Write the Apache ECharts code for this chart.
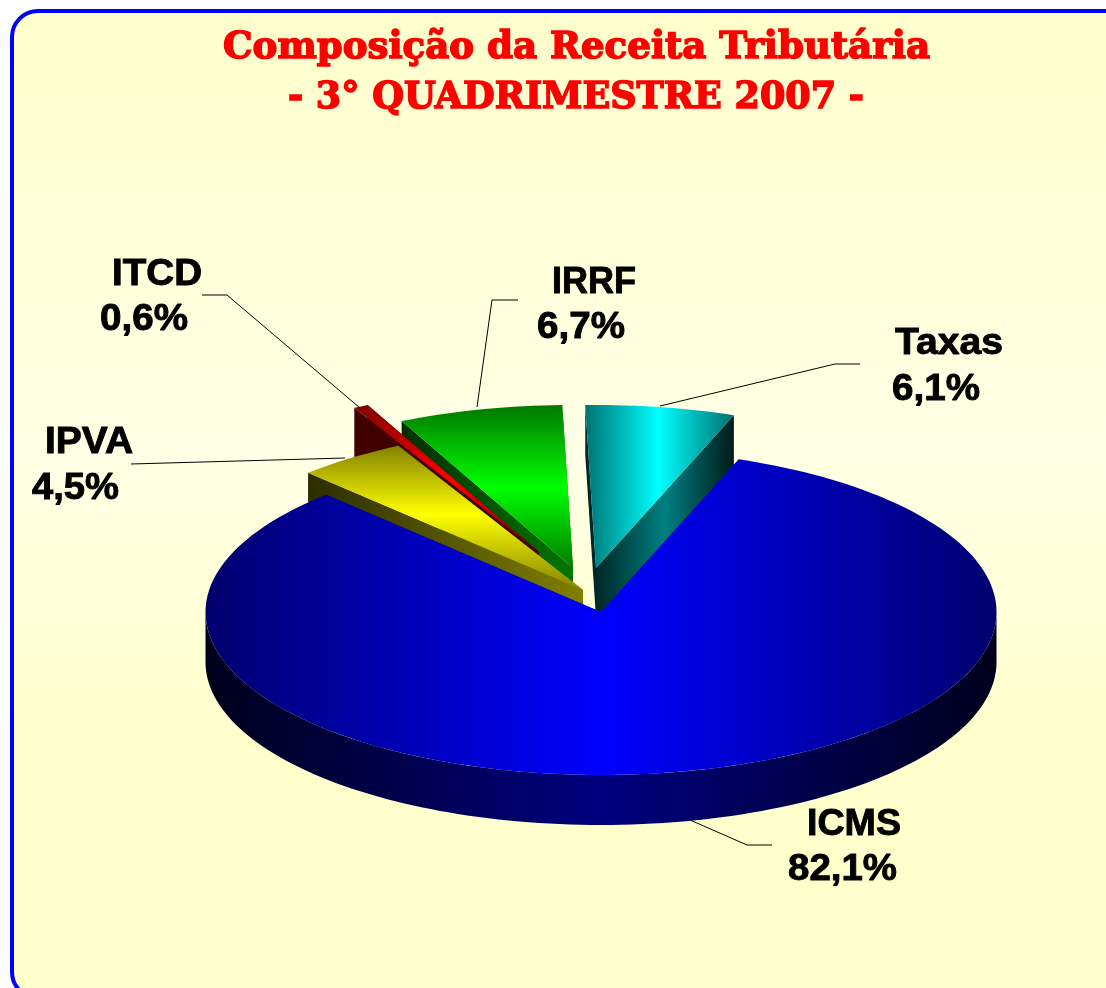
<!DOCTYPE html>
<html>
<head>
<meta charset="utf-8">
<style>html,body{margin:0;padding:0;background:#fff}#c{width:1106px;height:988px}</style>
<script src="https://cdn.jsdelivr.net/npm/echarts@6/dist/echarts.min.js"></script>
</head>
<body>
<div id="c"></div>
<script>
// ---- data (percent of revenue), clockwise order starting at ICMS
const categories = ['ICMS', 'IPVA', 'ITCD', 'IRRF', 'Taxas'];
const shares = [82.1, 4.5, 0.6, 6.7, 6.1];
const shareLabels = ['82,1%', '4,5%', '0,6%', '6,7%', '6,1%'];
const titleLines = ['Composição da Receita Tributária', '- 3° QUADRIMESTRE 2007 -'];

// ---- drawing style
const paintOrder = ['IRRF', 'ITCD', 'IPVA', 'Taxas', 'ICMS'];
const pieCenter = [601, 612], rx = 395.5, ry = 163, depth = 50, startAngle = 69.6;
const explode = {ICMS: [0, 0], IPVA: [-18, -22], ITCD: [-62, -60], IRRF: [-28, -44], Taxas: [-5, -44]};
const G = (x1, y1, x2, y2, stops) => new echarts.graphic.LinearGradient(x1, y1, x2, y2,
  stops.map(s => ({offset: s[0], color: s[1]})), true);
const fills = {
  ICMS: {top: G(206, 0, 997, 0, [[0, '#00006e'], [0.5, '#0000ff'], [1, '#00006e']]),
         side: G(206, 0, 997, 0, [[0, '#00001c'], [0.5, '#000080'], [1, '#00001c']]),
         face: '#000080'},
  IPVA: {top: G(0, 445, 0, 592, [[0, '#808000'], [0.47, '#ffff00'], [1, '#808000']]),
         side: '#808000',
         face: G(307, 0, 585, 0, [[0, '#2c2c00'], [1, '#808000']])},
  ITCD: {top: G(0, 405, 0, 552, [[0, '#800000'], [0.5, '#ff0000'], [1, '#800000']]),
         side: '#400000', face: '#400000'},
  IRRF: {top: G(0, 405, 0, 570, [[0, '#007800'], [0.5, '#00ff00'], [1, '#007800']]),
         side: '#003000',
         face: G(402, 0, 574, 0, [[0, '#003000'], [1, '#007800']])},
  Taxas: {top: G(584, 0, 733, 0, [[0, '#007070'], [0.5, '#00ffff'], [1, '#007070']]),
          side: '#002020',
          face: G(597, 0, 733, 0, [[0, '#002828'], [0.5, '#008080'], [1, '#001c1c']])}
};
// label text: left x, target width, vertical centre of caps
const labelBoxes = {
  ICMS: [[807, 94, 825], [788, 109, 870]],
  IPVA: [[45, 88, 443], [32, 87, 489]],
  ITCD: [[112, 90, 275], [100, 88, 320]],
  IRRF: [[552, 84, 283], [537, 88, 328]],
  Taxas: [[895, 108, 344], [892, 88, 390]]
};
const leaders = {
  ICMS: [[690, 820], [747, 845], [772, 845]],
  IPVA: [[131, 464], [345, 458]],
  ITCD: [[202, 295], [227, 295], [360, 408]],
  IRRF: [[518, 300], [492, 300], [477, 407]],
  Taxas: [[860, 364], [835, 364], [660, 406]]
};

// angular spans from the data
const total = shares.reduce((a, b) => a + b, 0);
const spans = {};
let cursor = startAngle;
categories.forEach((c, i) => {
  const sweep = shares[i] / total * 360;
  spans[c] = [cursor, cursor - sweep];
  cursor -= sweep;
});

function pt(cx, cy, deg) {
  const t = deg * Math.PI / 180;
  return [cx + rx * Math.cos(t), cy - ry * Math.sin(t)];
}
function arc(cx, cy, from, to) {
  const n = Math.max(2, Math.ceil(Math.abs(from - to) / 1.5));
  const out = [];
  for (let i = 0; i <= n; i++) out.push(pt(cx, cy, from + (to - from) * i / n));
  return out;
}
function renderItem(params, api) {
  const name = paintOrder[params.dataIndex];
  const value = api.value(1);
  const [a0, a1] = spans[name];
  const cx = pieCenter[0] + explode[name][0], cy = pieCenter[1] + explode[name][1];
  const f = fills[name];
  const kids = [];
  const poly = (points, fill) => kids.push({type: 'polygon', shape: {points}, style: {fill, stroke: null}, silent: true});
  const c0 = [cx, cy];
  [a0, a1].forEach(a => {
    const p = pt(cx, cy, a);
    poly([c0, p, [p[0], p[1] + depth], [cx, cy + depth]], f.face);
  });
  // outer rim: only the front half (-180..0 degrees) can be seen
  const hi = Math.min(a0, 0), lo = Math.max(a1, -180);
  if (hi > lo) {
    const rim = arc(cx, cy, hi, lo);
    poly(rim.concat(rim.slice().reverse().map(p => [p[0], p[1] + depth])), f.side);
  }
  poly([c0].concat(arc(cx, cy, a0, a1)), f.top);
  return {type: 'group', children: kids, info: value};
}

// text helpers
const ctx = document.createElement('canvas').getContext('2d');
function fitted(text, x, yMid, width, font, fill, strokeW) {
  ctx.font = font;
  return {type: 'text', x, y: yMid, z: 20, silent: true,
    scaleX: width / ctx.measureText(text).width,
    style: {text, font, fill, stroke: fill, lineWidth: strokeW, verticalAlign: 'middle', align: 'left'}};
}
const labelFont = 'bold 36px "Liberation Sans"';
const titleFont = 'bold 38px "DejaVu Serif"';
const graphics = [
  {type: 'rect', z: 0, silent: true, shape: {x: 12, y: 11, width: 1130, height: 987, r: 26},
   style: {fill: G(0, 11, 0, 988, [[0, '#ffffcc'], [0.45, '#ffffe6'], [0.75, '#ffffcc'], [1, '#ffffcc']]), stroke: '#0000ff', lineWidth: 4}},
  fitted(titleLines[0], 223, 48, 707, titleFont, '#ff0000', 1.6),
  fitted(titleLines[1], 288, 98, 576, titleFont, '#ff0000', 1.6)
];
categories.forEach((c, i) => {
  const b = labelBoxes[c];
  graphics.push(fitted(c, b[0][0], b[0][2], b[0][1], labelFont, '#000', 0.9));
  graphics.push(fitted(shareLabels[i], b[1][0], b[1][2], b[1][1], labelFont, '#000', 0.9));
  graphics.push({type: 'polyline', z: 15, silent: true, shape: {points: leaders[c]}, style: {stroke: '#000', lineWidth: 1, fill: null}});
});

const chart = echarts.init(document.getElementById('c'), null, {renderer: 'canvas'});
chart.setOption({
  animation: false,
  backgroundColor: '#ffffff',
  tooltip: {show: false},
  graphic: {elements: graphics},
  series: [{
    type: 'custom',
    coordinateSystem: 'none',
    z: 5,
    renderItem,
    data: paintOrder.map(n => [n, shares[categories.indexOf(n)]])
  }]
});
</script>
</body>
</html>
